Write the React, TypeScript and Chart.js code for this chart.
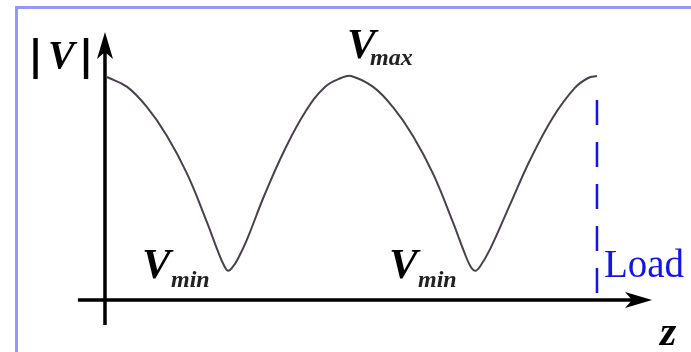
import React, { useEffect, useRef } from "react";
import { Chart, registerables } from "chart.js";

Chart.register(...registerables);

// Standing-wave magnitude |V| along the line, z in wavelengths
const positionZ = [
  0.004, 0.045, 0.085, 0.126, 0.167, 0.207, 0.230, 0.242, 0.250, 0.260, 0.270,
  0.289, 0.325, 0.366, 0.407, 0.447, 0.480, 0.500,
  0.545, 0.585, 0.626, 0.667, 0.707, 0.730, 0.742, 0.752, 0.762, 0.783,
  0.823, 0.864, 0.911, 0.955, 0.982, 1.0,
];
const voltageMag = [
  1.778, 1.699, 1.539, 1.308, 1.005, 0.622, 0.383, 0.275, 0.233, 0.265, 0.327,
  0.486, 0.845, 1.204, 1.499, 1.699, 1.770, 1.786,
  1.699, 1.539, 1.308, 1.005, 0.622, 0.383, 0.275, 0.233, 0.265, 0.407,
  0.758, 1.116, 1.459, 1.691, 1.770, 1.786,
];

// Load marker (dashed vertical line at the load end)
const loadZ = [1.0, 1.0];
const loadV = [1.595, 0];

// Axis extents (data units)
const zAxisRange = [-0.055, 1.112];
const vAxisRange = [-0.2, 2.137];

// Texts
const yAxisLabel = "V";
const xAxisLabel = "z";
const maxLabel = ["V", "max"];
const minLabel = ["V", "min"];
const loadLabel = "Load";

// Scale windows
const zWindow = [-0.2134, 1.1911];
const vWindow = [-0.415, 2.392];

const SERIF = "'Liberation Serif', 'Times New Roman', serif";

function arrowHead(ctx: CanvasRenderingContext2D, tx: number, ty: number, dx: number, dy: number) {
  const len = 27, half = 8, notch = 7;
  const px = -dy, py = dx;
  ctx.beginPath();
  ctx.moveTo(tx, ty);
  ctx.lineTo(tx - dx * len + px * half, ty - dy * len + py * half);
  ctx.lineTo(tx - dx * (len - notch), ty - dy * (len - notch));
  ctx.lineTo(tx - dx * len - px * half, ty - dy * len - py * half);
  ctx.closePath();
  ctx.fill();
}

const decorPlugin = {
  id: "decor",
  beforeDraw(chart: any) {
    const { ctx, width, height } = chart;
    ctx.save();
    ctx.fillStyle = "#ffffff";
    ctx.fillRect(0, 0, width, height);
    ctx.strokeStyle = "rgb(150,150,255)";
    ctx.lineWidth = 3;
    ctx.beginPath();
    ctx.moveTo(16.5, height);
    ctx.lineTo(16.5, 7.5);
    ctx.lineTo(width, 7.5);
    ctx.stroke();
    ctx.restore();
  },
  afterDatasetsDraw(chart: any) {
    const { ctx } = chart;
    const xs = chart.scales.x;
    const ys = chart.scales.y;
    const X = (v: number) => xs.getPixelForValue(v);
    const Y = (v: number) => ys.getPixelForValue(v);
    ctx.save();
    // axes
    ctx.strokeStyle = "#000";
    ctx.fillStyle = "#000";
    ctx.lineWidth = 3.5;
    ctx.beginPath();
    ctx.moveTo(X(0), Y(vAxisRange[0]));
    ctx.lineTo(X(0), Y(vAxisRange[1]) + 12);
    ctx.moveTo(X(zAxisRange[0]), Y(0));
    ctx.lineTo(X(zAxisRange[1]) - 12, Y(0));
    ctx.stroke();
    arrowHead(ctx, X(0), Y(vAxisRange[1]), 0, -1);
    arrowHead(ctx, X(zAxisRange[1]), Y(0), 1, 0);

    // |V| label
    const ax = X(0), ay = Y(vAxisRange[1]);
    ctx.textBaseline = "alphabetic";
    ctx.textAlign = "center";
    ctx.font = "bold 40px 'DejaVu Sans'";
    ctx.fillText("|", ax - 69.5, ay + 37);
    ctx.fillText("|", ax - 19, ay + 37);
    ctx.textAlign = "left";
    ctx.font = `italic bold 40px ${SERIF}`;
    ctx.fillText(yAxisLabel, ax - 57, ay + 36);

    // z label
    ctx.font = `italic bold 42px ${SERIF}`;
    ctx.fillText(xAxisLabel, X(zAxisRange[1]) + 8, Y(0) + 45);

    // Vmax
    const maxIdx = voltageMag.indexOf(Math.max(...voltageMag));
    const mx = X(positionZ[maxIdx]), my = Y(voltageMag[maxIdx]);
    ctx.font = `italic bold 43px ${SERIF}`;
    ctx.fillStyle = "#000";
    ctx.fillText(maxLabel[0], mx - 4, my - 18);
    ctx.font = `italic bold 24px ${SERIF}`;
    ctx.fillStyle = "#222";
    ctx.fillText(maxLabel[1], mx + 19, my - 11);

    // Vmin labels at each minimum
    const minVal = Math.min(...voltageMag);
    voltageMag.forEach((v, i) => {
      if (v !== minVal) return;
      const nx = X(positionZ[i]), ny = Y(v);
      ctx.font = `italic bold 43px ${SERIF}`;
      ctx.fillStyle = "#000";
      ctx.fillText(minLabel[0], nx - 86, ny + 7);
      ctx.font = `italic bold 24px ${SERIF}`;
      ctx.fillStyle = "#222";
      ctx.fillText(minLabel[1], nx - 57, ny + 16);
    });

    // Load
    ctx.font = `39px ${SERIF}`;
    ctx.fillStyle = "#1414e6";
    ctx.fillText(loadLabel, X(loadZ[0]) + 7, Y(0) - 23);
    ctx.restore();
  },
};

export default function App() {
  const ref = useRef<HTMLCanvasElement | null>(null);
  useEffect(() => {
    if (!ref.current) return;
    const chart = new Chart(ref.current, {
      type: "scatter",
      data: {
        datasets: [
          {
            data: positionZ.map((z, i) => ({ x: z, y: voltageMag[i] })),
            showLine: true,
            borderColor: "#4a3f4f",
            borderWidth: 2,
            pointRadius: 0,
            tension: 0.4,
          },
          {
            data: loadZ.map((z, i) => ({ x: z, y: loadV[i] })),
            showLine: true,
            borderColor: "#1414e6",
            borderWidth: 2.5,
            borderDash: [25, 17],
            pointRadius: 0,
          },
        ],
      },
      options: {
        responsive: false,
        animation: false,
        devicePixelRatio: 1,
        layout: { padding: 0 },
        plugins: { legend: { display: false }, tooltip: { enabled: false } },
        scales: {
          x: { type: "linear", min: zWindow[0], max: zWindow[1], display: false },
          y: { type: "linear", min: vWindow[0], max: vWindow[1], display: false },
        },
      },
      plugins: [decorPlugin],
    } as any);
    return () => chart.destroy();
  }, []);
  return (
    <div style={{ position: "fixed", left: 0, top: 0, width: 691, height: 352, background: "#fff" }}>
      <canvas ref={ref} width={691} height={352} style={{ width: 691, height: 352, display: "block" }} />
    </div>
  );
}
